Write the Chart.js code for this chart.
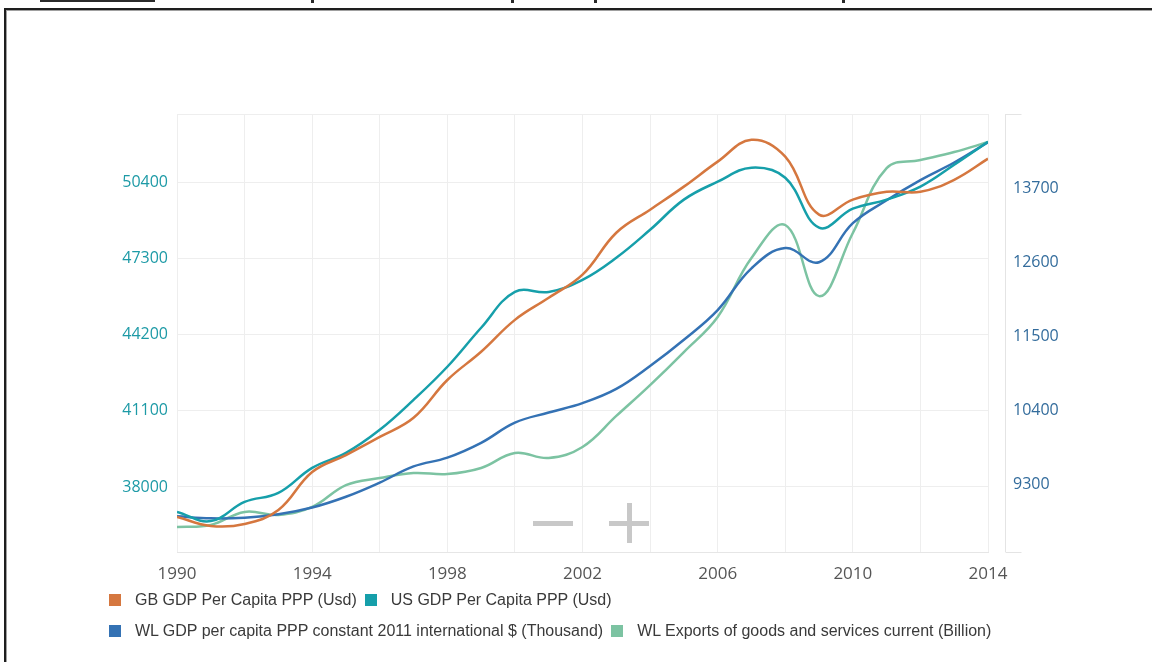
<!DOCTYPE html>
<html>
<head>
<meta charset="utf-8">
<script src="https://cdn.jsdelivr.net/npm/chart.js@4.4.0/dist/chart.umd.min.js"></script>
<style>
  html, body { margin: 0; padding: 0; background: #fff; width: 1152px; height: 662px; overflow: hidden; position: relative; }
  #frame { position: absolute; left: 4px; top: 8px; width: 1200px; height: 700px;
           border-left: 2px solid #1e1e1e; border-top: 2px solid #1e1e1e; box-shadow: inset 1px 1px 0 #a0a0a0; }
  .cut { position: absolute; top: 0; background: #2a2a2a; }
  #wrap { position: absolute; left: 0; top: 0; width: 1152px; height: 662px; }
  #legend { position: absolute; left: 109px; top: 591px; font-family: "Liberation Sans", Arial, sans-serif; font-size: 16px; color: #3a3a3a; }
  #legend .row { display: flex; align-items: center; height: 18px; margin-bottom: 13px; }
  #legend .item { display: flex; align-items: center; margin-right: 8px; }
  #legend .box { width: 12px; height: 12px; margin-right: 14px; }
  .zbtn { position: absolute; background: #c8c8c8; }
</style>
</head>
<body>
<div class="cut" style="left:40px;width:115px;height:2px"></div>
<div class="cut" style="left:311px;width:3px;height:3px"></div>
<div class="cut" style="left:511px;width:3px;height:3px"></div>
<div class="cut" style="left:594px;width:3px;height:3px"></div>
<div class="cut" style="left:842px;width:3px;height:3px"></div>
<div id="frame"></div>
<div id="wrap"><canvas id="chart"></canvas></div>
<div class="zbtn" style="left:533px;top:521px;width:40px;height:5px"></div>
<div class="zbtn" style="left:609px;top:521px;width:40px;height:5px"></div>
<div class="zbtn" style="left:627px;top:503px;width:5px;height:40px"></div>
<div id="legend"></div>
<script>
const years = [1990, 1991, 1992, 1993, 1994, 1995, 1996, 1997, 1998, 1999, 2000, 2001, 2002,
               2003, 2004, 2005, 2006, 2007, 2008, 2009, 2010, 2011, 2012, 2013, 2014];

const gbGdp = [36780, 36410, 36490, 37060, 38610, 39300, 40040, 40820, 42360, 43510, 44810, 45710, 46650,
               48360, 49300, 50240, 51260, 52150, 51460, 49100, 49710, 50030, 50030, 50520, 51380];
const usGdp = [36980, 36610, 37390, 37760, 38780, 39390, 40330, 41550, 42900, 44490, 45950, 45950, 46440,
               47340, 48480, 49710, 50440, 51010, 50600, 48570, 49340, 49710, 50240, 51130, 52070];
const wlGdp = [8830, 8800, 8810, 8860, 8960, 9120, 9330, 9570, 9700, 9920, 10220, 10370, 10510,
               10720, 11060, 11450, 11890, 12510, 12810, 12600, 13180, 13520, 13820, 14080, 14380];
const wlExports = [4250, 4350, 5000, 4850, 5250, 6340, 6690, 6940, 6890, 7190, 7940, 7690, 8240,
                   9790, 11330, 12980, 14730, 17670, 19320, 15770, 18920, 22160, 22560, 22960, 23460];

const leftTicks = [38000, 41100, 44200, 47300, 50400];
const rightTicks = [9300, 10400, 11500, 12600, 13700];

const seriesNames = [
  'GB GDP Per Capita PPP (Usd)',
  'US GDP Per Capita PPP (Usd)',
  'WL GDP per capita PPP constant 2011 international $ (Thousand)',
  'WL Exports of goods and services current (Billion)'
];
const seriesColors = ['#d5773f', '#169faa', '#3472b4', '#7cc3a2'];

Chart.defaults.font.family = '"Open Sans", sans-serif';

function pts(values) {
  return values.map((v, i) => ({ x: years[i], y: v }));
}

function makeSet(i, values, axis) {
  return {
    label: seriesNames[i],
    data: pts(values),
    yAxisID: axis,
    borderColor: seriesColors[i],
    backgroundColor: seriesColors[i],
    borderWidth: 2.5,
    pointRadius: 0,
    tension: 0.4,
    fill: false
  };
}

// thin separate line for the right axis, set off from the plot
const rightAxisLine = {
  id: 'rightAxisLine',
  afterDraw(chart) {
    const a = chart.chartArea;
    const ctx = chart.ctx;
    const x = a.right + 17.5;
    ctx.save();
    ctx.strokeStyle = '#e4e4e4';
    ctx.lineWidth = 1;
    ctx.beginPath();
    ctx.moveTo(x, a.top);
    ctx.lineTo(x, a.bottom);
    ctx.moveTo(x, a.top + 0.5);
    ctx.lineTo(x + 16, a.top + 0.5);
    ctx.moveTo(x, a.bottom + 0.5);
    ctx.lineTo(x + 16, a.bottom + 0.5);
    ctx.stroke();
    ctx.restore();
  }
};

const chart = new Chart(document.getElementById('chart').getContext('2d'), {
  type: 'line',
  data: {
    datasets: [
      makeSet(0, gbGdp, 'y'),
      makeSet(1, usGdp, 'y'),
      makeSet(2, wlGdp, 'y1'),
      makeSet(3, wlExports, 'y2')
    ]
  },
  options: {
    responsive: true,
    maintainAspectRatio: false,
    animation: false,
    layout: { padding: { top: 114, bottom: 70, left: 0, right: 0 } },
    plugins: { legend: { display: false }, tooltip: { enabled: false } },
    scales: {
      x: {
        type: 'linear',
        min: 1990,
        max: 2014,
        ticks: {
          stepSize: 2,
          autoSkip: false,
          maxRotation: 0,
          padding: 12,
          color: '#555',
          font: { size: 17 },
          callback: v => ((v - 1990) % 4 === 0 ? String(v) : '')
        },
        grid: { color: '#eeeeee', drawTicks: false },
        border: { color: '#e6e6e6' },
        afterFit(s) { s.height = 40; }
      },
      y: {
        position: 'left',
        min: 35350,
        max: 53200,
        afterBuildTicks(s) {
          s.ticks = [s.min].concat(leftTicks, [s.max]).map(v => ({ value: v }));
        },
        ticks: {
          color: '#1d9aa6',
          font: { size: 16 },
          padding: 9,
          callback: v => (leftTicks.includes(v) ? String(v) : '')
        },
        grid: { color: '#eeeeee', drawTicks: false },
        border: { display: false },
        afterFit(s) { s.width = 177; }
      },
      y1: {
        position: 'right',
        min: 8300,
        max: 14800,
        afterBuildTicks(s) {
          s.ticks = rightTicks.map(v => ({ value: v }));
        },
        ticks: {
          color: '#336c9c',
          font: { size: 16 },
          padding: 25,
          callback: v => String(v)
        },
        grid: { drawOnChartArea: false, drawTicks: false },
        border: { display: false },
        afterFit(s) { s.width = 164; }
      },
      y2: {
        display: false,
        min: 3000,
        max: 24860
      }
    }
  },
  plugins: [rightAxisLine]
});

// legend in two rows, as in the original
const legend = document.getElementById('legend');
[[0, 1], [2, 3]].forEach(pair => {
  const row = document.createElement('div');
  row.className = 'row';
  pair.forEach(i => {
    const ds = chart.data.datasets[i];
    const item = document.createElement('div');
    item.className = 'item';
    const box = document.createElement('span');
    box.className = 'box';
    box.style.background = ds.borderColor;
    const txt = document.createElement('span');
    txt.textContent = ds.label;
    item.appendChild(box);
    item.appendChild(txt);
    row.appendChild(item);
  });
  legend.appendChild(row);
});
</script>
</body>
</html>
